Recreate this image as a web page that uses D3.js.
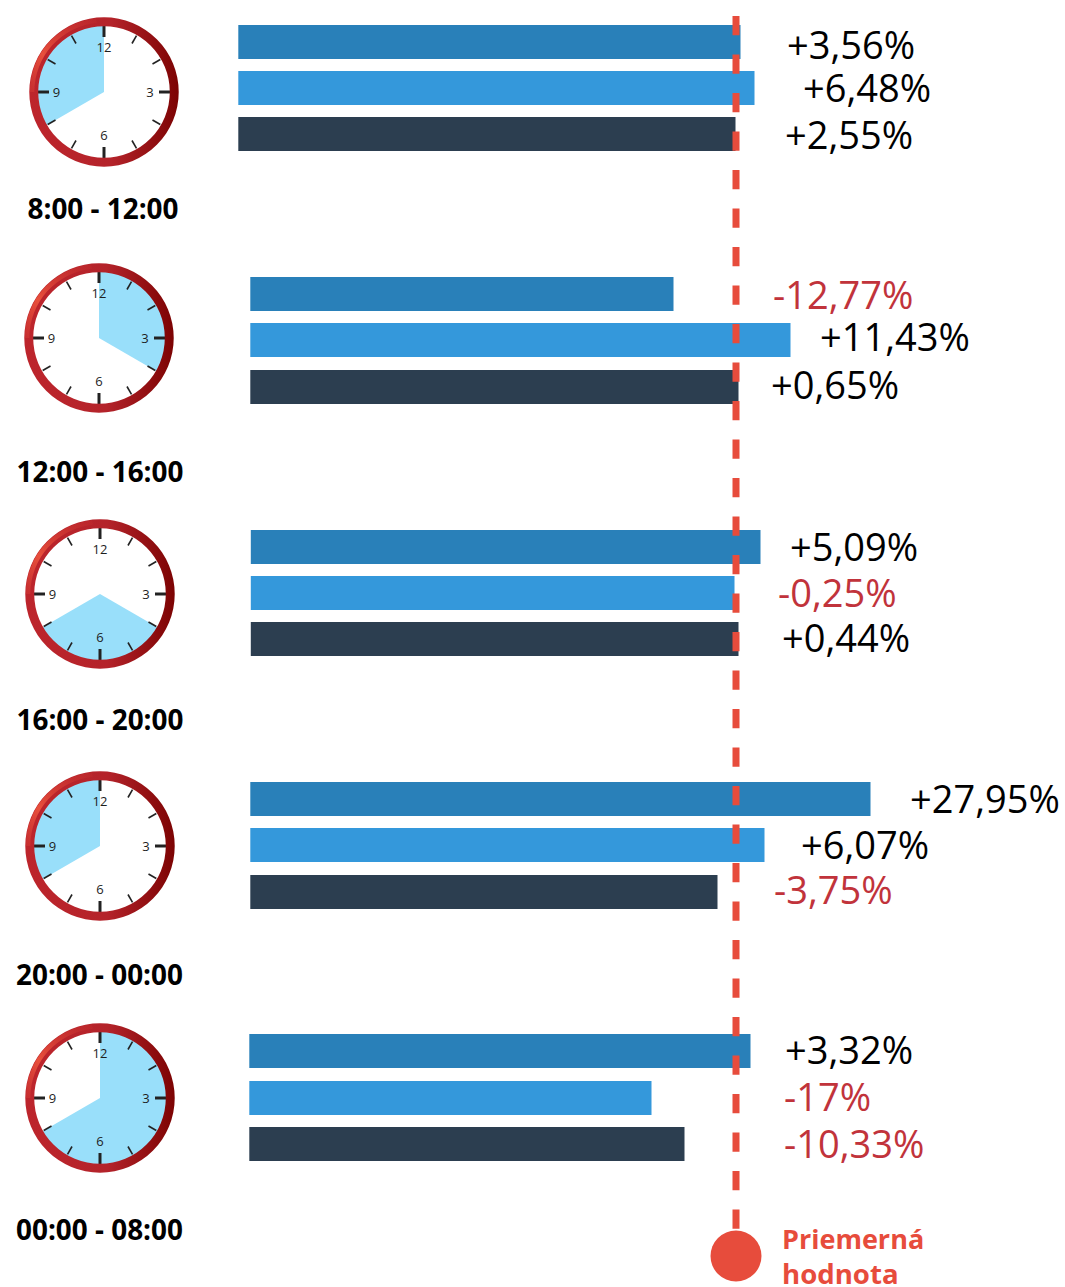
<!DOCTYPE html>
<html><head><meta charset="utf-8">
<style>html,body{margin:0;padding:0;background:#fff}svg{display:block}text{font-family:"Open Sans",sans-serif}</style>
<script src="https://cdnjs.cloudflare.com/ajax/libs/d3/7.8.5/d3.min.js"></script>
</head><body><div id="chart"></div>
<script>
// Data
const periods = ["8:00 - 12:00","12:00 - 16:00","16:00 - 20:00","20:00 - 00:00","00:00 - 08:00"];
const clockStartHour = [8,0,4,8,0];
const clockEndHour = [12,4,8,12,8];
const clockNumbers = [12,3,6,9];
const seriesNames = ["s1","s2","s3"];
const series1Labels = ["+3,56%","-12,77%","+5,09%","+27,95%","+3,32%"];
const series2Labels = ["+6,48%","+11,43%","-0,25%","+6,07%","-17%"];
const series3Labels = ["+2,55%","+0,65%","+0,44%","-3,75%","-10,33%"];
// Bar ends (the drawn lengths are not strictly proportional to the labels)
const series1Drawn = [0.9,-12.5,4.9,26.9,2.9];
const series2Drawn = [3.7,10.9,-0.3,5.7,-16.9];
const series3Drawn = [-0.1,0.5,0.5,-3.7,-10.3];
const legendLines = ["Priemerná","hodnota"];

// Layout
const W=1065,H=1287;
const colors=["#2980b9","#3498db","#2c3e50"];
const lineColor="#e74c3c", negColor="#c1333b";
const barStart=[238.3,250.3,250.8,250.3,249.3];
const barStep=[46,46.25,46,46.25,46.5];
const clockCx=[104,99,100,100,100], clockCy=[92,338,594,846,1098];
const periodCx=[103,100,100,99.5,99.5], periodBase=[219,482,730,985,1240];
const labelX=[[787,803,785],[773,820,771],[790,778,782],[910,801,774],[785,784,784]];
const labelBase=[[59,102,149],[309,351,399],[561,607,652],[813,859,904],[1064,1111,1158]];

const svg=d3.select("#chart").append("svg").attr("width",W).attr("height",H).attr("viewBox",[0,0,W,H]);
const defs=svg.append("defs");
const grad=defs.append("linearGradient").attr("id","ring").attr("x1","0").attr("x2","1").attr("y1","0").attr("y2","0");
grad.append("stop").attr("offset","0").attr("stop-color","#bd252c");
grad.append("stop").attr("offset","0.55").attr("stop-color","#b4232a");
grad.append("stop").attr("offset","1").attr("stop-color","#7c0303");
const hi=defs.append("linearGradient").attr("id","hi").attr("x1","0").attr("x2","1").attr("y1","1").attr("y2","0");
hi.append("stop").attr("offset","0").attr("stop-color","#e2483a").attr("stop-opacity","0.25");
hi.append("stop").attr("offset","0.35").attr("stop-color","#e8503c");
hi.append("stop").attr("offset","1").attr("stop-color","#c9302f").attr("stop-opacity","0.2");

const x=d3.scaleLinear().domain([-20,30]).range([636,886]);
const rowY=d3.scaleLinear().domain([0,4]).range([25,1034]);
const barH=34;
const drawn=[series1Drawn,series2Drawn,series3Drawn];
const labels=[series1Labels,series2Labels,series3Labels];

// Bars
periods.forEach((p,i)=>{
  const g=svg.append("g");
  g.selectAll("rect").data(seriesNames).join("rect")
    .attr("x",barStart[i]).attr("y",(d,j)=>Math.round(rowY(i))+Math.round(j*barStep[i]))
    .attr("width",(d,j)=>x(drawn[j][i])-barStart[i]).attr("height",barH)
    .attr("fill",(d,j)=>colors[j]);
  g.selectAll("text").data(seriesNames).join("text")
    .attr("x",(d,j)=>labelX[i][j]).attr("y",(d,j)=>labelBase[i][j])
    .attr("font-size",38).attr("fill",(d,j)=>labels[j][i][0]==="-"?negColor:"#000")
    .text((d,j)=>labels[j][i]);
});

// Average line
svg.append("line").attr("x1",x(0)).attr("x2",x(0)).attr("y1",16).attr("y2",1232)
  .attr("stroke",lineColor).attr("stroke-width",7).attr("stroke-dasharray","19.3 19.2");
svg.append("circle").attr("cx",x(0)).attr("cy",1256).attr("r",25.5).attr("fill",lineColor);
svg.append("g").selectAll("text").data(legendLines).join("text")
  .attr("x",782).attr("y",(d,i)=>1249+i*35).attr("font-size",(d,i)=>i?27.6:27).attr("font-weight",700)
  .attr("fill",lineColor).text(d=>d);

// Clocks
const R=74.7,r=65.8;
const hourA=d3.scaleLinear().domain([0,12]).range([0,2*Math.PI]);
const numberPos={12:[0,-40.5],3:[46,4.5],6:[0,47.5],9:[-47.5,4.5]};
periods.forEach((p,i)=>{
  const g=svg.append("g").attr("transform",`translate(${clockCx[i]},${clockCy[i]})`);
  g.append("circle").attr("r",r+1).attr("fill","#fff");
  let s=clockStartHour[i],e=clockEndHour[i]; if(e<=s)e+=12;
  g.append("path").attr("d",d3.arc()({innerRadius:0,outerRadius:r+2,startAngle:hourA(s),endAngle:hourA(e)})).attr("fill","#99dffa");
  g.selectAll("line").data(d3.range(12)).join("line")
    .attr("x1",h=>Math.sin(hourA(h))*(h%3?56:55)).attr("y1",h=>-Math.cos(hourA(h))*(h%3?56:55))
    .attr("x2",h=>Math.sin(hourA(h))*(h%3?65:66)).attr("y2",h=>-Math.cos(hourA(h))*(h%3?65:66))
    .attr("stroke","#222").attr("stroke-width",h=>h%3?1.6:3);
  g.selectAll("text").data(clockNumbers).join("text")
    .attr("x",h=>numberPos[h][0]).attr("y",h=>numberPos[h][1])
    .attr("text-anchor","middle").attr("font-size",13).attr("fill","#1e1e1e").text(d=>d);
  g.append("path").attr("d",d3.arc()({innerRadius:r,outerRadius:R,startAngle:0,endAngle:2*Math.PI})).attr("fill","url(#ring)");
  g.append("path").attr("d",d3.arc()({innerRadius:R-5,outerRadius:R-0.5,startAngle:hourA(9),endAngle:hourA(11.8)})).attr("fill","url(#hi)");
  svg.append("text").attr("x",periodCx[i]).attr("y",periodBase[i]).attr("text-anchor","middle")
    .attr("font-size",27.9).attr("font-weight",700).attr("fill","#000").text(p);
});
</script></body></html>
